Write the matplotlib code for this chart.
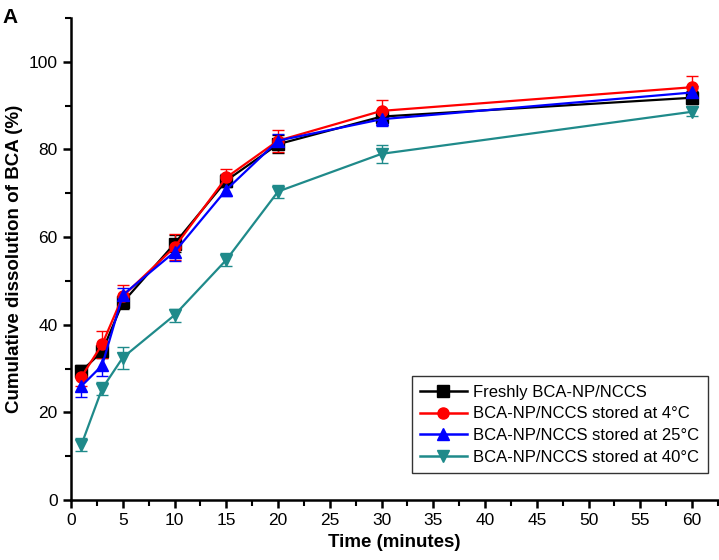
import matplotlib
matplotlib.use("Agg")
import matplotlib.pyplot as plt
from matplotlib.ticker import MultipleLocator
from matplotlib.lines import Line2D

plt.rcParams['font.family'] = ['Liberation Sans', 'DejaVu Sans']

# Tiempo de muestreo (min)
time = [1, 3, 5, 10, 15, 20, 30, 60]

# Disolucion acumulada (%) y desviaciones
fresh = [29.4, 33.9, 45.1, 58.5, 72.9, 81.2, 87.5, 91.8]
fresh_err = [1.5, 1.5, 1.5, 2.0, 1.5, 2.0, 1.5, 1.5]
t4 = [28.1, 35.5, 46.5, 57.7, 73.6, 82.0, 88.8, 94.2]
t4_err = [2.0, 3.0, 2.5, 3.0, 2.0, 2.5, 2.5, 2.5]
t25 = [26.0, 30.7, 46.8, 56.6, 70.8, 82.0, 86.9, 93.0]
t25_err = [2.5, 2.5, 1.5, 2.0, 1.5, 1.5, 1.5, 1.5]
t40 = [12.6, 25.4, 32.5, 42.2, 54.8, 70.4, 79.0, 88.6]
t40_err = [1.5, 1.5, 2.5, 1.5, 1.5, 1.5, 2.0, 1.0]

labels = ['Freshly BCA-NP/NCCS',
          'BCA-NP/NCCS stored at 4\u00b0C',
          'BCA-NP/NCCS stored at 25\u00b0C',
          'BCA-NP/NCCS stored at 40\u00b0C']

series = [
    (fresh, fresh_err, 'black', 's'),
    (t4, t4_err, '#ff0000', 'o'),
    (t25, t25_err, '#0000ff', '^'),
    (t40, t40_err, '#1f8a8a', 'v'),
]

fig = plt.figure(figsize=(7.19, 5.6), dpi=100)
ax = fig.add_axes([0.0988, 0.1071, 0.8998, 0.8608])

handles = []
for (y, e, c, m), lab in zip(series, labels):
    ax.errorbar(time, y, yerr=e, color=c, marker=m, markersize=8,
                linewidth=1.6, elinewidth=1.0, capsize=4, capthick=1.0)
    handles.append(Line2D([], [], color=c, marker=m, markersize=8,
                          linewidth=1.8, label=lab))

ax.set_xlim(0, 62.5)
ax.set_ylim(0, 110)
ax.xaxis.set_major_locator(MultipleLocator(5))
ax.xaxis.set_minor_locator(MultipleLocator(2.5))
ax.yaxis.set_major_locator(MultipleLocator(20))
ax.yaxis.set_minor_locator(MultipleLocator(10))
ax.set_yticks(range(0, 101, 20))

ax.spines['top'].set_visible(False)
ax.spines['right'].set_visible(False)
ax.spines['left'].set_linewidth(1.8)
ax.spines['bottom'].set_linewidth(1.8)
ax.tick_params(which='major', direction='out', length=6, width=1.8, labelsize=12.5)
ax.tick_params(which='minor', direction='out', length=4, width=1.5)

ax.set_xlabel('Time (minutes)', fontsize=13.5, fontweight='bold', labelpad=4)
ax.set_ylabel('Cumulative dissolution of BCA (%)', fontsize=13.5, fontweight='bold')

leg = ax.legend(handles=handles, loc='lower right', bbox_to_anchor=(0.984, 0.056),
                fontsize=12, frameon=True, fancybox=False, edgecolor='black',
                handlelength=2.8, borderpad=0.5, labelspacing=0.4,
                handletextpad=0.4, borderaxespad=0)
leg.get_frame().set_linewidth(1.0)

fig.text(0.004, 0.985, 'A', fontsize=15, fontweight='bold', va='top', ha='left')

fig.savefig('out.png', dpi=100)
